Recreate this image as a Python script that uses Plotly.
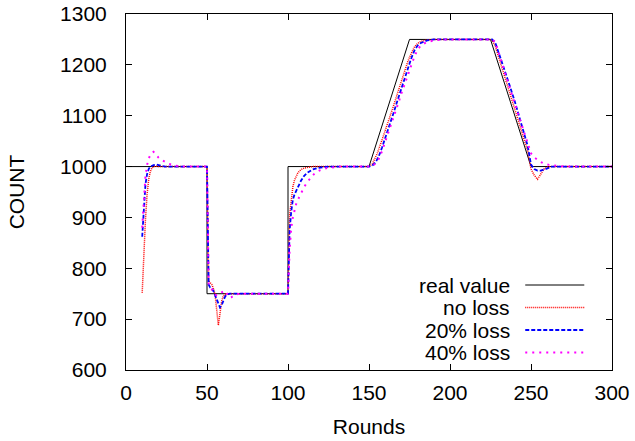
import plotly.graph_objects as go

# ---- data ----
real_x = [0, 50, 50, 100, 100, 150, 175, 225, 250, 300]
real_y = [1000, 1000, 750, 750, 1000, 1000, 1250, 1250, 1000, 1000]

noloss_x = [10, 11, 12, 13, 14, 15, 16, 17, 18, 20,
            50, 51, 52, 53, 54, 55, 56, 57, 58, 59, 60, 61, 62, 65,
            100, 101, 102, 103, 104, 105, 106, 107, 108, 110, 112, 115, 118,
            150, 152, 155, 158, 160, 163, 165, 168, 170, 172, 174, 176, 178, 180, 182, 184, 186, 190,
            225, 226, 228, 230, 235, 240, 245, 248, 250, 252, 254, 256, 258, 260, 262, 300]
noloss_y = [752, 835, 895, 945, 975, 990, 997, 1000, 1001, 1000,
            1000, 775, 772, 768, 760, 748, 718, 688, 710, 735, 745, 749, 750, 750,
            750, 905, 940, 960, 973, 982, 987, 991, 994, 997, 998, 1000, 1000,
            1000, 1005, 1025, 1052, 1070, 1098, 1118, 1148, 1168, 1188, 1207, 1222, 1235, 1242, 1246, 1248, 1249, 1250,
            1250, 1249, 1236, 1215, 1162, 1112, 1062, 1030, 995, 983, 975, 986, 995, 999, 1000, 1000]

loss20_x = [10, 11, 12, 13, 14, 15, 17, 19, 21, 24,
            50, 51, 52, 53, 54, 55, 56, 57, 58, 59, 60, 61, 62, 64,
            100, 101, 102, 103, 104, 105, 106, 107, 108, 110, 112, 115, 118, 122, 126,
            150, 152, 154, 156, 158, 160, 163, 165, 168, 170, 172, 174, 176, 178, 180, 182, 184, 186, 190,
            225, 226, 228, 230, 235, 240, 245, 248, 250, 252, 254, 256, 258, 260, 263, 300]
loss20_y = [862, 925, 965, 985, 995, 1000, 1003, 1004, 1002, 1000,
            1000, 768, 762, 760, 755, 747, 738, 728, 723, 727, 736, 743, 748, 750,
            750, 875, 912, 935, 945, 952, 960, 966, 972, 982, 988, 994, 997, 999, 1000,
            1000, 1002, 1008, 1020, 1037, 1055, 1084, 1104, 1134, 1154, 1174, 1193, 1212, 1228, 1238, 1243, 1246, 1248, 1250,
            1250, 1250, 1243, 1225, 1177, 1128, 1075, 1040, 1004, 995, 992, 992, 994, 997, 1000, 1000]

loss40_x = [10, 11, 12, 13, 14, 15, 16, 17, 18, 19, 20, 22, 24, 26, 28, 30, 33, 36,
            50, 51, 52, 53, 54, 55, 56, 57, 58, 59, 60, 61, 62, 63, 64, 65, 67, 70,
            100, 101, 102, 103, 104, 105, 106, 108, 110, 112, 114, 116, 118, 120, 124, 128, 132,
            150, 152, 154, 156, 158, 160, 163, 165, 168, 170, 172, 174, 176, 178, 180, 182, 184, 186, 190, 195,
            225, 226, 228, 230, 235, 240, 245, 248, 250, 252, 254, 256, 258, 260, 264, 268, 272, 300]
loss40_y = [880, 940, 980, 1003, 1016, 1022, 1027, 1029, 1025, 1021, 1018, 1013, 1009, 1006, 1004, 1002, 1001, 1000,
            1000, 770, 765, 758, 752, 748, 747, 749, 751, 753, 755, 756, 752, 746, 742, 743, 747, 750,
            750, 836, 880, 900, 915, 926, 934, 948, 960, 970, 978, 985, 990, 993, 997, 999, 1000,
            1000, 1001, 1006, 1015, 1030, 1048, 1075, 1095, 1124, 1144, 1163, 1182, 1200, 1216, 1230, 1238, 1242, 1245, 1248, 1250,
            1250, 1250, 1245, 1226, 1174, 1124, 1074, 1044, 1026, 1018, 1013, 1009, 1006, 1004, 1002, 1001, 1000, 1000]

series_names = ["real value", "no loss", "20% loss", "40% loss"]
x_ticks = [0, 50, 100, 150, 200, 250, 300]
y_ticks = [600, 700, 800, 900, 1000, 1100, 1200, 1300]

styles = [
    dict(color="black", width=1, dash="solid"),
    dict(color="#ff0000", width=1.5, dash="1px,1px"),
    dict(color="#0000ff", width=1.8, dash="4px,2px"),
    dict(color="#ff00ff", width=2, dash="2px,5px"),
]

FONT = "Liberation Sans, Arial, Helvetica, sans-serif"
FS = 21

fig = go.Figure()
for (xs, ys), name, st in zip([(real_x, real_y), (noloss_x, noloss_y),
                               (loss20_x, loss20_y), (loss40_x, loss40_y)],
                              series_names, styles):
    fig.add_trace(go.Scatter(x=xs, y=ys, mode="lines", name=name,
                             line=st, showlegend=False))

# gnuplot-style legend: right-aligned text, sample line on the right
L, R, T, B = 126, 23.3, 14, 71
W, H = 635, 441
pw, ph = W - L - R, H - T - B
rows_px = [285, 307.5, 330, 352.5]
text_right_px = 511
line_x0_px, line_x1_px = 525, 584
for name, st, ypx in zip(series_names, styles, rows_px):
    yp = (H - B - ypx) / ph
    fig.add_annotation(x=(text_right_px - L) / pw, y=yp, xref="paper", yref="paper",
                       text=name, showarrow=False, xanchor="right", yanchor="middle",
                       borderpad=0,
                       font=dict(family=FONT, size=FS, color="black"))
    fig.add_shape(type="line", xref="paper", yref="paper",
                  x0=(line_x0_px - L) / pw, x1=(line_x1_px - L) / pw, y0=yp, y1=yp,
                  line=st)

axis_common = dict(showline=True, linecolor="black", linewidth=1, mirror="ticks",
                   ticks="inside", ticklen=6, tickcolor="black", tickwidth=1,
                   showgrid=False, zeroline=False, automargin=False,
                   tickfont=dict(family=FONT, size=FS, color="black"))

fig.update_layout(
    width=W, height=H,
    margin=dict(l=L, r=R, t=T, b=B, autoexpand=False),
    plot_bgcolor="white", paper_bgcolor="white",
    xaxis=dict(range=[0, 300], tickvals=x_ticks, ticklabelstandoff=4,
               title=dict(text="Rounds", font=dict(family=FONT, size=FS, color="black"), standoff=16),
               **axis_common),
    yaxis=dict(range=[600, 1300], tickvals=y_ticks, ticklabelstandoff=14,
               title=dict(text="COUNT", font=dict(family=FONT, size=FS, color="black"), standoff=29),
               **axis_common),
)

fig.write_html("out.html")
